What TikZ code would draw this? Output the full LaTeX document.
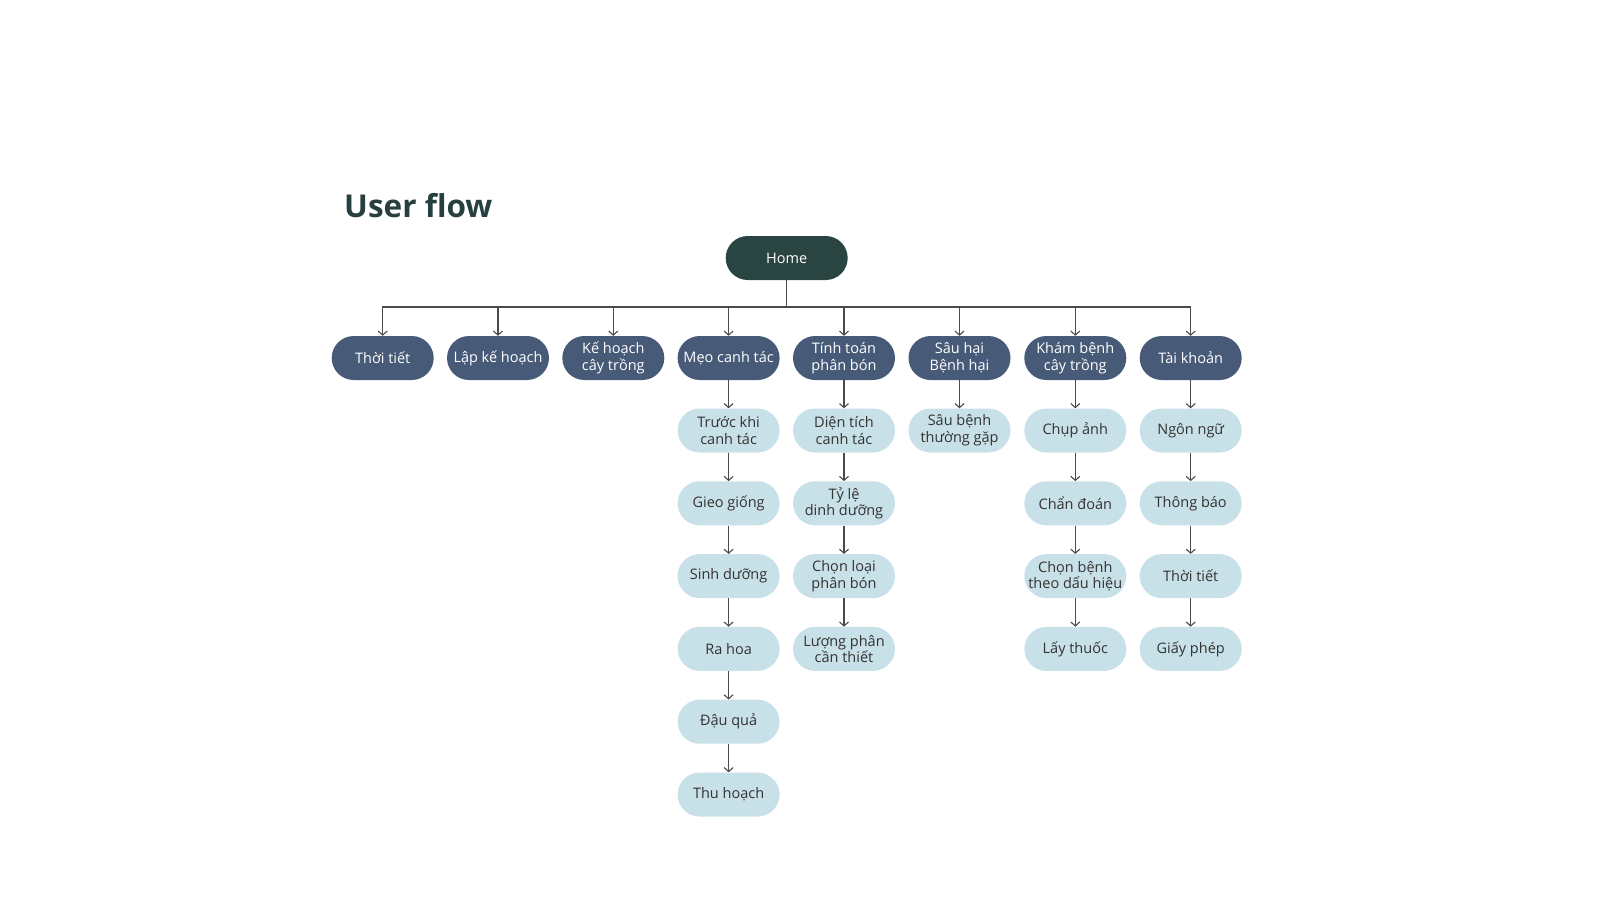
\documentclass[tikz,border=0pt]{standalone}
\usepackage{fontspec}
\setmainfont{Open Sans}
\usetikzlibrary{arrows.meta}
\definecolor{homegreen}{HTML}{2A4442}
\definecolor{catblue}{HTML}{475A78}
\definecolor{sublight}{HTML}{C8E0E8}
\definecolor{linegray}{HTML}{4A4A4A}
\definecolor{subtext}{HTML}{333333}
\definecolor{titlegreen}{HTML}{27403F}
\tikzset{
	pill/.style={rectangle, rounded corners=22pt, minimum width=102pt,
		minimum height=44pt, inner sep=0pt, align=center,
		font=\fontsize{14.5}{16.7}\selectfont},
	home/.style={pill, fill=homegreen, text=white, minimum width=122pt},
	cat/.style={pill, fill=catblue, text=white},
	sub/.style={pill, fill=sublight, text=subtext},
	link/.style={draw=linegray, line width=1.1pt},
	arr/.style={link, -{Straight Barb[length=4pt,width=9pt]}},
}
\begin{document}
\begin{tikzpicture}[x=1pt, y=-1pt]
	\useasboundingbox (0,0) rectangle (1600,900);
	\node[anchor=base west, text=titlegreen, font=\fontsize{31.5}{38}\selectfont\bfseries, inner sep=0pt] (title) at (344,217) {User flow};
	
	\node[home] (home) at (786.7,258) {Home};
	\coordinate (bus) at (786.7,307);
	
	\node[cat] (c_1) at (382.7,358) {Thời tiết};
	\node[cat] (c_2) at (498,358) {Lập kế hoạch};
	\node[cat] (c_3) at (613.3,358) {Kế hoạch\\cây trồng};
	\node[cat] (c_4) at (728.6,358) {Mẹo canh tác};
	\node[cat] (c_5) at (844,358) {Tính toán\\phân bón};
	\node[cat] (c_6) at (959.5,358) {Sâu hại\\Bệnh hại};
	\node[cat] (c_7) at (1075.3,358) {Khám bệnh\\cây trồng};
	\node[cat] (c_8) at (1190.7,358) {Tài khoản};
	
	% meo canh tac
	\node[sub] (m_1) at (728.6,430.5) {Trước khi\\canh tác};
	\node[sub] (m_2) at (728.6,503.3) {Gieo giống};
	\node[sub] (m_3) at (728.6,576.1) {Sinh dưỡng};
	\node[sub] (m_4) at (728.6,648.9) {Ra hoa};
	\node[sub] (m_5) at (728.6,721.7) {Đậu quả};
	\node[sub] (m_6) at (728.6,794.5) {Thu hoạch};
	
	% tinh toan phan bon
	\node[sub] (t_1) at (844,430.5) {Diện tích\\canh tác};
	\node[sub] (t_2) at (844,503.3) {Tỷ lệ\\dinh dưỡng};
	\node[sub] (t_3) at (844,576.1) {Chọn loại\\phân bón};
	\node[sub] (t_4) at (844,648.9) {Lượng phân\\cần thiết};
	
	% sau hai
	\node[sub] (s_1) at (959.5,430.5) {Sâu bệnh\\thường gặp};
	
	% kham benh
	\node[sub] (k_1) at (1075.3,430.5) {Chụp ảnh};
	\node[sub] (k_2) at (1075.3,503.3) {Chẩn đoán};
	\node[sub] (k_3) at (1075.3,576.1) {Chọn bệnh\\theo dấu hiệu};
	\node[sub] (k_4) at (1075.3,648.9) {Lấy thuốc};
	
	% tai khoan
	\node[sub] (a_1) at (1190.7,430.5) {Ngôn ngữ};
	\node[sub] (a_2) at (1190.7,503.3) {Thông báo};
	\node[sub] (a_3) at (1190.7,576.1) {Thời tiết};
	\node[sub] (a_4) at (1190.7,648.9) {Giấy phép};
	
	\draw[link] (home.south) -- (bus);
	\foreach \c in {c_1,c_2,c_3,c_4,c_5,c_6,c_7,c_8}
		\draw[arr] (bus) -| (\c.north);
	
	\draw[arr] (c_4) -- (m_1);
	\draw[arr] (m_1) -- (m_2);
	\draw[arr] (m_2) -- (m_3);
	\draw[arr] (m_3) -- (m_4);
	\draw[arr] (m_4) -- (m_5);
	\draw[arr] (m_5) -- (m_6);
	
	\draw[arr] (c_5) -- (t_1);
	\draw[arr] (t_1) -- (t_2);
	\draw[arr] (t_2) -- (t_3);
	\draw[arr] (t_3) -- (t_4);
	
	\draw[arr] (c_6) -- (s_1);
	
	\draw[arr] (c_7) -- (k_1);
	\draw[arr] (k_1) -- (k_2);
	\draw[arr] (k_2) -- (k_3);
	\draw[arr] (k_3) -- (k_4);
	
	\draw[arr] (c_8) -- (a_1);
	\draw[arr] (a_1) -- (a_2);
	\draw[arr] (a_2) -- (a_3);
	\draw[arr] (a_3) -- (a_4);
\end{tikzpicture}
\end{document}
